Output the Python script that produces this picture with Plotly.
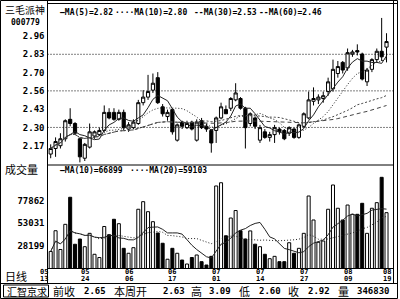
import plotly.graph_objects as go
import pandas as pd

W, H = 400, 299
def px(x): return x / W
def py(y): return 1 - y / H

MONO = "DejaVu Sans Mono"
CJK = "Noto Sans CJK SC"

# ---------------- data (daily candles, 2005-05-13 .. 2005-08-19) ----------------
opens = [2.11, 2.15, 2.17, 2.22, 2.36, 2.33, 2.22, 2.08, 2.16, 2.24,
         2.25, 2.28, 2.41, 2.41, 2.36, 2.41, 2.29, 2.30, 2.33, 2.48,
         2.52, 2.57, 2.66, 2.45, 2.38, 2.43, 2.21, 2.34, 2.30, 2.34,
         2.21, 2.35, 2.31, 2.28, 2.28, 2.37, 2.43, 2.44, 2.50, 2.51,
         2.44, 2.33, 2.37, 2.21, 2.27, 2.23, 2.25, 2.29, 2.28, 2.26,
         2.29, 2.23, 2.31, 2.37, 2.49, 2.50, 2.51, 2.56, 2.58, 2.69,
         2.77, 2.73, 2.83, 2.855, 2.83, 2.63, 2.72, 2.79, 2.85, 2.88]
highs = [2.18, 2.23, 2.26, 2.36, 2.44, 2.34, 2.23, 2.19, 2.33, 2.28,
         2.30, 2.46, 2.44, 2.44, 2.43, 2.43, 2.34, 2.36, 2.50, 2.57,
         2.68, 2.69, 2.70, 2.47, 2.43, 2.44, 2.33, 2.35, 2.35, 2.35,
         2.36, 2.37, 2.33, 2.29, 2.38, 2.48, 2.46, 2.52, 2.62, 2.52,
         2.45, 2.41, 2.38, 2.32, 2.29, 2.27, 2.32, 2.30, 2.29, 2.31,
         2.30, 2.33, 2.41, 2.56, 2.59, 2.54, 2.56, 2.66, 2.79, 2.78,
         2.78, 2.87, 2.86, 2.90, 2.84, 2.73, 2.80, 2.87, 3.09, 2.98]
lows = [2.08, 2.09, 2.15, 2.20, 2.31, 2.25, 2.05, 2.06, 2.15, 2.22,
        2.24, 2.27, 2.36, 2.35, 2.35, 2.28, 2.27, 2.29, 2.32, 2.46,
        2.50, 2.55, 2.47, 2.38, 2.35, 2.25, 2.20, 2.29, 2.29, 2.28,
        2.20, 2.29, 2.27, 2.12, 2.19, 2.36, 2.40, 2.42, 2.49, 2.43,
        2.15, 2.31, 2.29, 2.19, 2.22, 2.20, 2.19, 2.25, 2.21, 2.24,
        2.22, 2.22, 2.30, 2.36, 2.46, 2.47, 2.48, 2.53, 2.56, 2.66,
        2.69, 2.71, 2.81, 2.82, 2.64, 2.60, 2.70, 2.77, 2.78, 2.77]
closes = [2.15, 2.20, 2.22, 2.35, 2.33, 2.26, 2.09, 2.18, 2.27, 2.27,
          2.28, 2.41, 2.37, 2.36, 2.41, 2.30, 2.32, 2.34, 2.48, 2.52,
          2.56, 2.62, 2.48, 2.40, 2.41, 2.27, 2.32, 2.31, 2.33, 2.29,
          2.34, 2.30, 2.29, 2.19, 2.37, 2.45, 2.40, 2.51, 2.55, 2.44,
          2.30, 2.40, 2.31, 2.30, 2.23, 2.25, 2.30, 2.27, 2.22, 2.30,
          2.23, 2.32, 2.40, 2.50, 2.51, 2.52, 2.53, 2.63, 2.72, 2.74,
          2.715, 2.84, 2.845, 2.845, 2.65, 2.715, 2.79, 2.85, 2.81, 2.92]
volumes = [21800, 44800, 24000, 51900, 81900, 29800, 35600, 27100, 41900, 18700,
           15100, 49500, 40400, 57500, 52600, 25300, 19800, 26000, 68600, 77000,
           65900, 54800, 42300, 30900, 13200, 25300, 19800, 12300, 7900, 15100,
           17900, 10500, 6800, 16400, 94400, 98000, 39200, 58900, 67200, 44800,
           35600, 44600, 29900, 27100, 18700, 13800, 16400, 10500, 10500, 31500,
           19800, 25300, 41900, 83300, 56700, 32000, 33400, 68600, 95500, 69700,
           56700, 73300, 63000, 63000, 75200, 41900, 69700, 75900, 104000, 64800]

# axis labels
date_tick_idx = [0, 7, 16, 25, 34, 43, 52, 61, 69]
date_tick_month = ["05", "05", "06", "06", "07", "07", "07", "08", "08"]
date_tick_day = ["13", "24", "06", "17", "01", "14", "27", "09", "19"]
price_tickvals = [2.17, 2.3017, 2.4333, 2.565, 2.6967, 2.8283, 2.96]
price_ticktext = ["2.17", "2.30", "2.43", "2.56", "2.70", "2.83", "2.96"]
vol_tickvals = [28199, 53031, 77862]
vol_ticktext = ["28199", "53031", "77862"]

# text content
stock_name = "三毛派神"
stock_code = "000779"
price_legend = ["\u2014MA(5)=2.82", "\u00b7\u00b7\u00b7\u00b7MA(10)=2.80", "--MA(30)=2.53", "--MA(60)=2.46"]
vol_legend = ["\u2014MA(10)=66899", "\u00b7\u00b7\u00b7\u00b7MA(20)=59103"]
info_labels = ["前收", "本周开", "高", "低", "收", "量"]
info_values = ["2.65", "2.63", "3.09", "2.60", "2.92", "346830"]

# ---------------- derived ----------------
n = len(closes)
idx = list(range(n))
cs = pd.Series(closes)
ma5 = cs.rolling(5, min_periods=1).mean()
ma10 = cs.rolling(10, min_periods=1).mean()
ma30 = cs.rolling(30, min_periods=1).mean()
ma60 = cs.rolling(60, min_periods=1).mean()
vs = pd.Series(volumes)
vma10 = vs.rolling(10, min_periods=1).mean()
vma20 = vs.rolling(20, min_periods=1).mean()
bar_fill = ["white" if c >= o else "black" for o, c in zip(opens, closes)]

# pixel layout
X_L, X_R = 47.5, 393.5
x_first, x_step = 50.7, 4.867
xr = [(X_L - x_first) / x_step, (X_R - x_first) / x_step]
P_TOP, P_BOT = 3.5, 165
V_TOP, V_BOT = 165, 268.5
p_per_px = 0.0072
prange = [2.96 - (P_BOT - 36) * p_per_px, 2.96 + (36 - P_TOP) * p_per_px]
v_per_px = 1108.6
vrange = [28199 - (V_BOT - 245.7) * v_per_px, 28199 + (245.7 - V_TOP) * v_per_px]

fig = go.Figure()
fig.add_trace(go.Candlestick(
    x=idx, open=opens, high=highs, low=lows, close=closes,
    increasing=dict(line=dict(color="black", width=1), fillcolor="white"),
    decreasing=dict(line=dict(color="black", width=1), fillcolor="black"),
    whiskerwidth=0, xaxis="x", yaxis="y", hoverinfo="skip"))
for ser, dash, col in [(ma5, "solid", "#222"), (ma10, "1px,2px", "#222"),
                       (ma30, "2px,2px", "#444"), (ma60, "4px,3px", "#444")]:
    fig.add_trace(go.Scatter(x=idx, y=ser, mode="lines", xaxis="x", yaxis="y",
                             line=dict(color=col, width=1, dash=dash), hoverinfo="skip"))
fig.add_trace(go.Bar(x=idx, y=volumes, xaxis="x2", yaxis="y2",
                     marker=dict(color=bar_fill, line=dict(color="black", width=1)),
                     hoverinfo="skip"))
fig.add_trace(go.Scatter(x=idx, y=vma10, mode="lines", xaxis="x2", yaxis="y2",
                         line=dict(color="#222", width=1), hoverinfo="skip"))
fig.add_trace(go.Scatter(x=idx, y=vma20, mode="lines", xaxis="x2", yaxis="y2",
                         line=dict(color="#222", width=1, dash="1px,2px"), hoverinfo="skip"))

tickfont = dict(family=MONO, size=9, color="black", weight="bold")
fig.update_layout(
    width=W, height=H, margin=dict(l=0, r=0, t=0, b=0),
    paper_bgcolor="white", plot_bgcolor="white", showlegend=False,
    bargap=0.38, boxgap=0.35, boxgroupgap=0,
    xaxis=dict(domain=[px(X_L), px(X_R)], range=xr, anchor="y", showticklabels=False,
               showgrid=False, zeroline=False, showline=False, ticks="",
               rangeslider=dict(visible=False)),
    yaxis=dict(domain=[py(P_BOT), py(P_TOP)], range=prange, anchor="x",
               tickvals=price_tickvals, ticktext=price_ticktext, ticks="",
               showgrid=False, zeroline=False, showline=False, tickfont=tickfont,
               ticklabelstandoff=2),
    xaxis2=dict(domain=[px(X_L), px(X_R)], range=xr, anchor="y2", showticklabels=False,
                showgrid=False, zeroline=False, showline=False, ticks=""),
    yaxis2=dict(domain=[py(V_BOT), py(V_TOP)], range=vrange, anchor="x2",
                tickvals=vol_tickvals, ticktext=vol_ticktext, ticks="",
                showgrid=False, zeroline=False, showline=False, tickfont=tickfont,
                ticklabelstandoff=2),
)

shapes = []
# dotted grid on every other price tick
for v in price_tickvals[1::2]:
    shapes.append(dict(type="line", xref="x domain", x0=0, x1=1, yref="y", y0=v, y1=v,
                       line=dict(color="black", width=1, dash="1px,2px")))
def hline(y, x0, x1, w=1):
    shapes.append(dict(type="line", xref="paper", yref="paper", x0=px(x0), x1=px(x1),
                       y0=py(y), y1=py(y), line=dict(color="black", width=w)))
def vline(x, y0, y1, w=1):
    shapes.append(dict(type="line", xref="paper", yref="paper", x0=px(x), x1=px(x),
                       y0=py(y0), y1=py(y1), line=dict(color="black", width=w)))
shapes.append(dict(type="rect", xref="paper", yref="paper", x0=px(0.5), x1=px(397.5),
                   y0=py(298.5), y1=py(0.5), line=dict(color="black", width=1)))
vline(X_L, 0.5, 283.5)
vline(X_R, 0.5, 283.5)
hline(3.5, X_L, 397.5)
hline(165, X_L, X_R)
hline(268.5, X_L, X_R)
hline(283.5, 0.5, 397.5)
shapes.append(dict(type="rect", xref="paper", yref="paper", x0=px(3.5), x1=px(48.5),
                   y0=py(297), y1=py(285), line=dict(color="black", width=1)))
fig.update_layout(shapes=shapes)

ann = []
def text(x, y, s, size=9, fam=MONO, xa="left", bold=True):
    ann.append(dict(xref="paper", yref="paper", x=px(x), y=py(y), text=s, showarrow=False,
                    xanchor=xa, yanchor="middle",
                    font=dict(family=fam, size=size, color="black",
                              weight="bold" if bold else "normal")))
text(3, 9.5, stock_name, size=10, fam=CJK, bold=False)
text(9, 23, stock_code, size=8)
for s, x in zip(price_legend, [58, 113, 192, 257]):
    text(x, 13, s, size=8)
text(3, 169, "成交量", size=11, fam=CJK, bold=False)
for s, x in zip(vol_legend, [58, 128]):
    text(x, 171, s, size=8)
text(3, 276, "日线", size=11, fam=CJK, bold=False)
text(5, 291, "汇智京求", size=10, fam=CJK, bold=False)
for s, x in zip(info_labels, [51, 112, 189, 237, 286, 336]):
    text(x, 291, s, size=11, fam=CJK, bold=False)
for s, x in zip(info_values, [108, 187, 233, 283, 332, 392]):
    text(x, 291, s, size=9, xa="right")
for k, (i, m, d) in enumerate(zip(date_tick_idx, date_tick_month, date_tick_day)):
    sh = -7 if k == 0 else 0
    for s, y in [(m, 272), (d, 278.5)]:
        ann.append(dict(xref="x2", yref="paper", x=i, y=py(y), text=s, showarrow=False,
                        xanchor="center", yanchor="middle", xshift=sh,
                        font=dict(family=MONO, size=7, color="black", weight="bold")))
fig.update_layout(annotations=ann)

fig.write_html("out.html")
